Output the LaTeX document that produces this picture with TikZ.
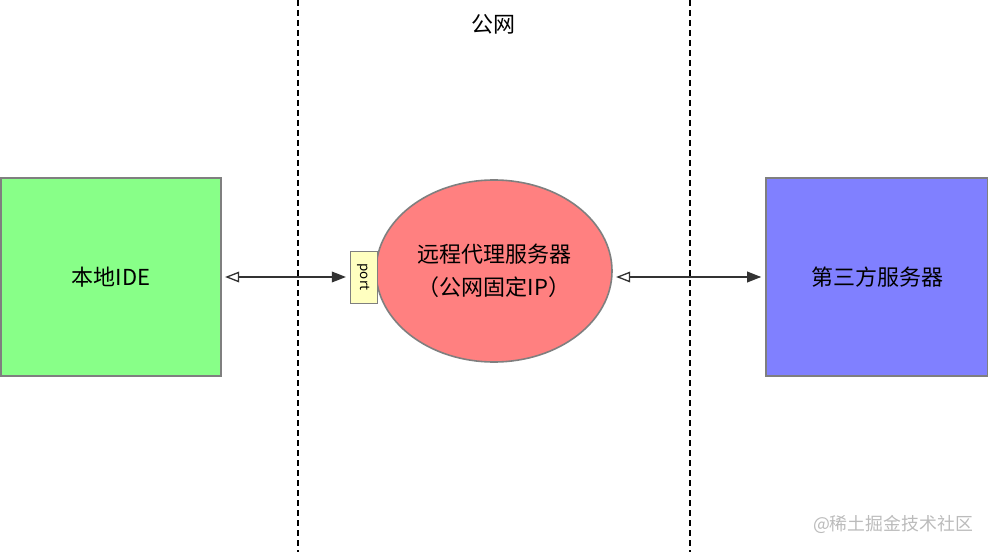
\documentclass[tikz,border=0pt]{standalone}
\usepackage{fontspec}
\setmainfont{Noto Sans CJK SC}
\usetikzlibrary{arrows.meta, positioning, shapes.geometric}
\definecolor{idegreen}{HTML}{88FF88}
\definecolor{srvblue}{HTML}{8080FF}
\definecolor{proxyred}{HTML}{FF8080}
\definecolor{portyellow}{HTML}{FFFFC0}
\definecolor{edgegray}{HTML}{7F7F7F}
\definecolor{linegray}{HTML}{333333}
\definecolor{markgray}{HTML}{BBBBBB}

\begin{document}
\begin{tikzpicture}[
    x=0.75pt, y=-0.75pt,
    box/.style={draw=edgegray, line width=1.2pt, minimum width=165pt,
                minimum height=148.5pt, font=\fontsize{16.5}{20}\selectfont},
    link/.style={{Triangle[open, length=10.5pt, width=8pt]}-{Triangle[length=10.5pt, width=8pt]},
                 linegray, line width=1pt, shorten <=2.5pt, shorten >=3pt},
    zone/.style={dash pattern=on 4.5pt off 3pt, black, line width=0.8pt}
  ]
    \useasboundingbox (0,0) rectangle (988,552);

    % zone borders
    \draw[zone] (298,0) -- (298,552);
    \draw[zone] (690,0) -- (690,552);
    \node[font=\fontsize{16.5}{20}\selectfont] (net) at (493,24) {公网};

    \node[box, fill=idegreen] (ide) at (111,277) {本地IDE};
    \node[box, fill=srvblue, minimum width=166.5pt] (third) at (877,277) {第三方服务器};

    \node[draw=edgegray, line width=1.2pt, fill=proxyred, ellipse,
          minimum width=177pt, minimum height=136.5pt, align=center,
          font=\fontsize{16.5}{25}\selectfont] (proxy) at (494,271)
      {远程代理服务器\\（公网固定IP）};

    \node[draw=edgegray, fill=portyellow, minimum width=20pt,
          minimum height=39pt, inner sep=0pt] (port) at (363.5,277) {};
    \node[rotate=-90, font=\fontsize{10}{11}\selectfont] (portlbl) at (port) {port};

    \draw[link] (ide.east) -- (port.west);
    \draw[link] (proxy.east |- third.west) -- (third.west);

    \node[text=markgray, font=\fontsize{13.4}{16}\selectfont] (mark) at (893,524) {@稀土掘金技术社区};
\end{tikzpicture}
\end{document}
